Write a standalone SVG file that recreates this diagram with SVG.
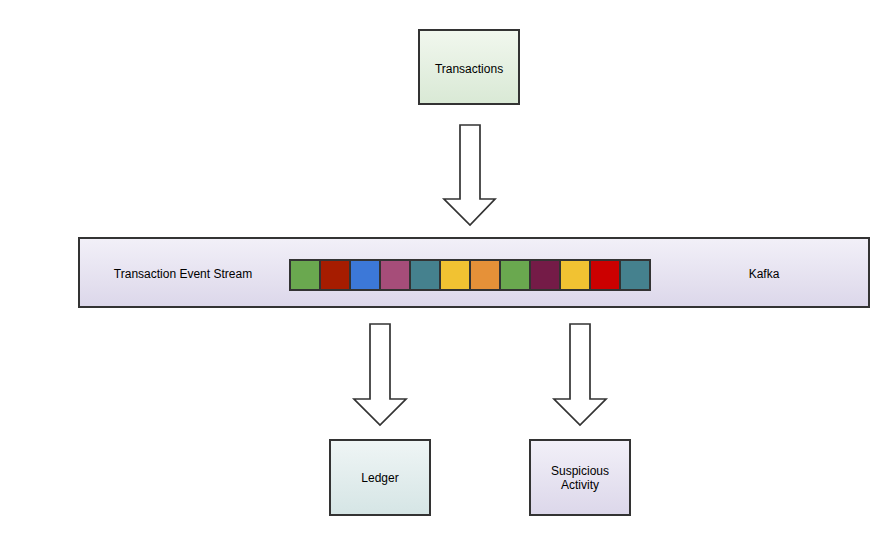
<svg xmlns="http://www.w3.org/2000/svg" width="889" height="535" viewBox="0 0 889 535">
<defs>
<linearGradient id="gGreen" x1="0" y1="0" x2="0" y2="1"><stop offset="0" stop-color="#f1f7ee"/><stop offset="1" stop-color="#d9e9d5"/></linearGradient>
<linearGradient id="gLav" x1="0" y1="0" x2="0" y2="1"><stop offset="0" stop-color="#f2f0f8"/><stop offset="1" stop-color="#dcd7ea"/></linearGradient>
<linearGradient id="gTeal" x1="0" y1="0" x2="0" y2="1"><stop offset="0" stop-color="#eff5f5"/><stop offset="1" stop-color="#d5e5e5"/></linearGradient>
</defs>
<style>
.box{stroke:#333333;stroke-width:2}
.arrow{fill:#ffffff;stroke:#333333;stroke-width:1.7;stroke-linejoin:miter}
.sq{stroke:#333333;stroke-width:2}
text{font-family:"Liberation Sans",Arial,sans-serif;font-size:12px;fill:#000000;text-anchor:middle}
</style>
<rect width="889" height="535" fill="#ffffff"/>
<g id="connectors">
<polygon class="arrow" points="460,125 480,125 480,199 495,199 470,225 444,199 460,199"/>
<polygon class="arrow" points="370,324 390,324 390,399 406,399 380,425 354,399 370,399"/>
<polygon class="arrow" points="570,324 590,324 590,399 606,399 580,425 554,399 570,399"/>
</g>
<g id="transactions">
<rect class="box" x="419" y="30" width="100" height="74" fill="url(#gGreen)"/>
<text x="469" y="73">Transactions</text>
</g>
<g id="kafka">
<rect class="box" x="79" y="238" width="790" height="69" fill="url(#gLav)"/>
<text x="183" y="278">Transaction Event Stream</text>
<text x="764" y="278">Kafka</text>
<rect class="sq" x="290" y="260" width="30" height="30" fill="#6aa84f"/>
<rect class="sq" x="320" y="260" width="30" height="30" fill="#a61c00"/>
<rect class="sq" x="350" y="260" width="30" height="30" fill="#3c78d8"/>
<rect class="sq" x="380" y="260" width="30" height="30" fill="#a64d79"/>
<rect class="sq" x="410" y="260" width="30" height="30" fill="#45818e"/>
<rect class="sq" x="440" y="260" width="30" height="30" fill="#f1c232"/>
<rect class="sq" x="470" y="260" width="30" height="30" fill="#e69138"/>
<rect class="sq" x="500" y="260" width="30" height="30" fill="#6aa84f"/>
<rect class="sq" x="530" y="260" width="30" height="30" fill="#741b47"/>
<rect class="sq" x="560" y="260" width="30" height="30" fill="#f1c232"/>
<rect class="sq" x="590" y="260" width="30" height="30" fill="#cc0000"/>
<rect class="sq" x="620" y="260" width="30" height="30" fill="#45818e"/>
</g>
<g id="ledger">
<rect class="box" x="330" y="440" width="100" height="75" fill="url(#gTeal)"/>
<text x="380" y="482">Ledger</text>
</g>
<g id="suspicious">
<rect class="box" x="530" y="440" width="100" height="75" fill="url(#gLav)"/>
<text x="580" y="475">Suspicious</text>
<text x="580" y="489">Activity</text>
</g>
</svg>
